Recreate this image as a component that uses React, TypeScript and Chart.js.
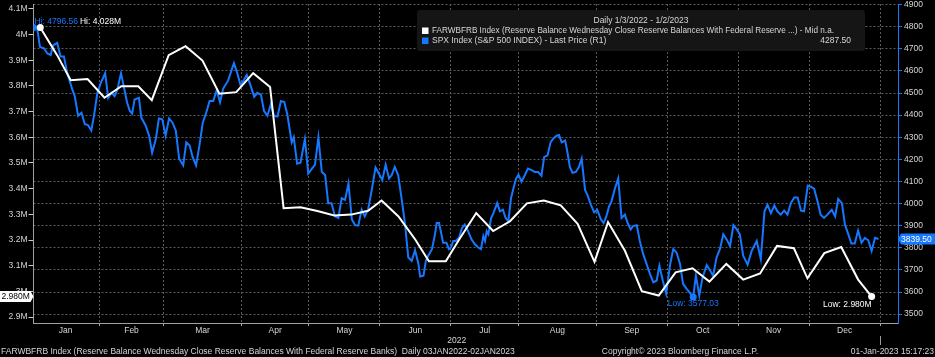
import React, { useEffect, useRef } from 'react';
import { Chart, registerables } from 'chart.js';

Chart.register(...registerables);

// ---------- DATA ----------
// Trading-day index (0 = 3 Jan 2022) and weekly reserve balances (in M)
const resDay = [2, 7, 11, 16, 21, 26, 31, 35, 40, 45, 50, 55, 60, 65, 70, 74, 79, 84, 89, 94, 99, 103, 108, 113, 117, 122, 126, 131, 136, 141, 146, 151, 156, 161, 166, 170, 175, 180, 185, 190, 195, 200, 205, 210, 215, 220, 225, 229, 234, 239, 244, 248];
const resBalance = [4.028, 3.92, 3.822, 3.827, 3.754, 3.799, 3.799, 3.745, 3.92, 3.955, 3.899, 3.77, 3.776, 3.85, 3.796, 3.324, 3.328, 3.313, 3.296, 3.299, 3.314, 3.354, 3.292, 3.201, 3.117, 3.117, 3.203, 3.305, 3.235, 3.273, 3.343, 3.354, 3.335, 3.263, 3.115, 3.27, 3.158, 3.001, 2.984, 3.074, 3.09, 3.038, 3.107, 3.046, 3.07, 3.177, 3.168, 3.051, 3.149, 3.173, 3.046, 2.98];

// S&P 500 (trading-day index, close)
const spxDay = [
  0, 1.1, 1.9, 3.1, 4.1, 5.1, 5.8, 7, 8, 9,
  10, 11.5, 12.2, 13.2, 14.2, 15.2, 16.1, 17.1, 17.9, 18.9,
  19.9, 21.2, 22.1, 23.1, 24, 24.8, 25.9, 26.7, 27.7, 28.5,
  29.2, 29.9, 31.2, 31.9, 33.2, 34.2, 35.1, 36.2, 37.1, 38.1,
  39.1, 40.1, 41.1, 42.1, 43.1, 44.3, 45.2, 46.2, 47.1, 48.1,
  49.1, 50.1, 51.1, 52.1, 53.2, 54.2, 55.2, 56.1, 57.6, 59.3,
  60.3, 61.3, 63.1, 64.3, 65.3, 66.2, 67.3, 68.2, 69.2, 70.2,
  71.2, 72.2, 73.2, 74.2, 75.1, 76.4, 77, 78, 79, 80.3,
  81.3, 83.3, 84.3, 85.3, 86.3, 87.2, 88.2, 89.2, 90.2, 91.2,
  92.2, 93.2, 94.2, 95.2, 96.1, 97.1, 98, 99, 100, 101.2,
  102.2, 103.2, 104.2, 105.2, 106, 106.9, 107.9, 108.9, 109.9, 110.9,
  111.9, 112.9, 113.9, 114.4, 115.4, 116.1, 116.8, 117.9, 118.8, 119.3,
  120, 120.7, 121.2, 122.2, 122.9, 123.5, 124.2, 124.9, 125.9, 126.8,
  127.6, 128.6, 129.6, 130.6, 131.6, 132.4, 133.1, 133.6, 134.1, 134.6,
  135.4, 136.1, 137.2, 138, 138.9, 139.7, 140.5, 141.3, 141.9, 142.8,
  143.5, 144.4, 145.4, 146.3, 147.4, 148.3, 149.3, 150.3, 151.1, 152.1,
  153, 153.8, 154.8, 155.5, 156.3, 157.3, 157.9, 158.7, 159.5, 160.5,
  161.4, 162.2, 163.2, 163.9, 164.9, 165.9, 166.8, 167.9, 168.7, 169.5,
  170.3, 171, 172, 173, 174, 175, 175.8, 176.7, 177.4, 178.5,
  179.4, 180.4, 181.4, 182.4, 183.4, 184.4, 185.2, 186.2, 187.2, 188.4,
  189.3, 190.3, 191.3, 192.2, 193.2, 194.4, 195.2, 196, 197, 198,
  199.2, 200.2, 201.1, 202.1, 203.1, 204.1, 205.1, 206.1, 207.1, 208.1,
  209, 210, 211.3, 212.5, 214, 215.2, 216.3, 217.2, 218.2, 219.2,
  220.1, 221.1, 222.1, 223.1, 224.1, 225.1, 226.1, 227.1, 228, 229.1,
  230, 231, 232, 232.9, 233.9, 234.9, 236.2, 237.2, 238.1, 239.2,
  240.1, 241.1, 242, 243, 244, 245, 246, 247, 248, 249,
  250,
];
const spxClose = [
  4796.56, 4793, 4709, 4702, 4679, 4672, 4716, 4727, 4665, 4665,
  4590, 4515, 4486, 4397, 4411, 4359, 4355, 4330, 4397, 4501,
  4545, 4590, 4478, 4501, 4486, 4515, 4590, 4531, 4456, 4419,
  4407, 4471, 4478, 4389, 4352, 4307, 4230, 4292, 4385, 4381,
  4307, 4385, 4367, 4330, 4203, 4173, 4277, 4263, 4210, 4173,
  4263, 4367, 4411, 4464, 4464, 4513, 4459, 4519, 4557, 4635,
  4590, 4533, 4582, 4531, 4483, 4501, 4493, 4419, 4397, 4448,
  4397, 4394, 4464, 4459, 4404, 4277, 4300, 4180, 4185, 4292,
  4136, 4176, 4300, 4143, 4129, 4002, 4002, 3942, 3935, 4024,
  4017, 4091, 3928, 3902, 3901, 3972, 3942, 3972, 4054, 4163,
  4136, 4106, 4176, 4113, 4129, 4166, 4129, 4024, 3912, 3756,
  3741, 3789, 3727, 3670, 3674, 3741, 3764, 3794, 3861, 3912,
  3912, 3861, 3823, 3823, 3794, 3801, 3831, 3831, 3845, 3890,
  3905, 3875, 3838, 3816, 3801, 3794, 3853, 3831, 3875, 3861,
  3935, 3957, 4002, 3965, 3972, 3935, 3920, 4024, 4062, 4113,
  4131, 4099, 4129, 4158, 4151, 4143, 4143, 4126, 4210, 4218,
  4277, 4295, 4307, 4310, 4277, 4285, 4240, 4166, 4139, 4143,
  4166, 4203, 4062, 4039, 3995, 3960, 3972, 3928, 3912, 3942,
  3987, 4009, 4066, 4113, 3935, 3950, 3912, 3883, 3898, 3902,
  3831, 3771, 3727, 3682, 3644, 3652, 3719, 3652, 3593, 3727,
  3794, 3778, 3727, 3637, 3615, 3593, 3577.03, 3674, 3585, 3667,
  3722, 3697, 3674, 3756, 3794, 3861, 3838, 3808, 3902, 3883,
  3861, 3764, 3723, 3786, 3831, 3749, 3965, 3995, 3957, 3991,
  3965, 3950, 3968, 3950, 4002, 4027, 4027, 3968, 3965, 4081,
  4076, 4066, 4009, 3950, 3935, 3950, 3972, 3942, 4021, 4002,
  3905, 3861, 3819, 3819, 3878, 3823, 3845, 3834, 3786, 3845,
  3839.5,
];

// First trading day of each month (Jan 2022 .. Jan 2023)
const monthStartDay = [0, 20, 39, 62, 82, 103, 124, 144, 167, 188, 209, 230, 251];
const monthLabels = ['Jan', 'Feb', 'Mar', 'Apr', 'May', 'Jun', 'Jul', 'Aug', 'Sep', 'Oct', 'Nov', 'Dec'];
const yearLabel = '2022';
const leftTicks = [2.9, 3.0, 3.1, 3.2, 3.3, 3.4, 3.5, 3.6, 3.7, 3.8, 3.9, 4.0, 4.1];
const rightTicks = [3500, 3600, 3700, 3800, 3900, 4000, 4100, 4200, 4300, 4400, 4500, 4600, 4700, 4800, 4900];

const legendTitle = 'Daily 1/3/2022 - 1/2/2023';
const legendRes = 'FARWBFRB Index (Reserve Balance Wednesday Close Reserve Balances With Federal Reserve ...) - Mid n.a.';
const legendSpx = 'SPX Index (S&P 500 INDEX) - Last Price (R1)';
const legendSpxValue = '4287.50';
const footerLeft = 'FARWBFRB Index (Reserve Balance Wednesday Close Reserve Balances With Federal Reserve Banks)  Daily 03JAN2022-02JAN2023';
const footerMid = 'Copyright\u00A9 2023 Bloomberg Finance L.P.';
const footerRight = '01-Jan-2023 15:17:23';

// ---------- STYLE ----------
const FONT = '"Liberation Sans", Arial, sans-serif';
const BLUE = '#1677ff';
const TEXT = '#d6d6d6';
const GRID = '#5a5a5a';

function argMax(a: number[]) { let k = 0; a.forEach((v, i) => { if (v > a[k]) k = i; }); return k; }
function argMin(a: number[]) { let k = 0; a.forEach((v, i) => { if (v < a[k]) k = i; }); return k; }

export default function App() {
  const ref = useRef<HTMLCanvasElement>(null);

  useEffect(() => {
    const canvas = ref.current!;
    const resHi = argMax(resBalance), resLo = argMin(resBalance);
    const spxHi = argMax(spxClose), spxLo = argMin(spxClose);
    const bounds = monthStartDay.slice(1).map((d) => d - 0.5);
    const mids = monthLabels.map((_, i) => (monthStartDay[i] + monthStartDay[i + 1]) / 2 - 0.5);
    const boundSet = new Set(bounds);
    const labelByMid = new Map<number, string>(mids.map((m, i) => [m, monthLabels[i]]));
    const f = (s: number) => `${s}px ${FONT}`;

    const background = {
      id: 'bg',
      beforeDraw(chart: any) {
        const c = chart.ctx;
        c.save();
        c.fillStyle = '#000';
        c.fillRect(0, 0, chart.width, chart.height);
        c.restore();
      },
    };

    const overlay = {
      id: 'overlay',
      afterDraw(chart: any) {
        const c = chart.ctx as CanvasRenderingContext2D;
        const ca = chart.chartArea;
        const xs = chart.scales.x;
        const y1 = chart.scales.y1;
        const y2 = chart.scales.y2;
        c.save();

        // year label and separator
        const yStart = Math.max(xs.getPixelForValue(monthStartDay[0] - 0.5), ca.left);
        const yEnd = xs.getPixelForValue(monthStartDay[monthStartDay.length - 1] - 0.5);
        c.fillStyle = TEXT;
        c.font = f(8.5);
        c.textAlign = 'center';
        c.textBaseline = 'middle';
        c.fillText(yearLabel, (yStart + yEnd) / 2, ca.bottom + 18);
        c.strokeStyle = '#9a9a9a';
        c.lineWidth = 1;
        c.beginPath();
        c.moveTo(Math.round(yEnd) + 0.5, ca.bottom + 13);
        c.lineTo(Math.round(yEnd) + 0.5, ca.bottom + 22);
        c.stroke();

        // legend box
        c.fillStyle = '#151515';
        c.beginPath();
        (c as any).roundRect(417, 10, 448, 41, 3);
        c.fill();
        c.fillStyle = TEXT;
        c.font = f(8.5);
        c.textAlign = 'center';
        c.fillText(legendTitle, 641, 21);
        c.textAlign = 'left';
        c.fillStyle = '#ffffff';
        c.fillRect(422, 27.5, 6.5, 6.5);
        c.fillStyle = BLUE;
        c.fillRect(422, 37.5, 6.5, 6.5);
        c.fillStyle = TEXT;
        c.font = f(8.2);
        c.fillText(legendRes, 432, 31);
        c.font = f(8.5);
        c.fillText(legendSpx, 432, 41);
        c.textAlign = 'right';
        c.fillText(legendSpxValue, 851, 41);

        // Hi / Low annotations
        const mRes = chart.getDatasetMeta(0).data;
        const mSpx = chart.getDatasetMeta(1).data;
        const pSH = mSpx[spxHi], pSL = mSpx[spxLo], pRH = mRes[resHi], pRL = mRes[resLo];
        c.font = f(8.5);
        c.textAlign = 'left';
        const hiBlue = `Hi: ${spxClose[spxHi].toFixed(2)}`;
        const hiX = Math.max(pSH.x, ca.left) + 1;
        c.fillStyle = BLUE;
        c.fillText(hiBlue, hiX, pSH.y - 6);
        const wX = hiX + c.measureText(hiBlue).width + 2;
        c.fillStyle = '#ffffff';
        c.fillText(`Hi: ${resBalance[resHi].toFixed(3)}M`, Math.max(wX, pRH.x), pSH.y - 6);
        c.textAlign = 'center';
        c.fillStyle = BLUE;
        c.fillText(`Low: ${spxClose[spxLo].toFixed(2)}`, pSL.x, pSL.y + 7);
        c.textAlign = 'right';
        c.fillStyle = '#ffffff';
        c.fillText(`Low: ${resBalance[resLo].toFixed(3)}M`, pRL.x, pRL.y + 8);

        // last value boxes
        const lastRes = resBalance[resBalance.length - 1];
        const ly = y1.getPixelForValue(lastRes);
        c.fillStyle = '#ffffff';
        c.beginPath();
        c.moveTo(0, ly - 5.5);
        c.lineTo(ca.left - 3, ly - 5.5);
        c.lineTo(ca.left, ly);
        c.lineTo(ca.left - 3, ly + 5.5);
        c.lineTo(0, ly + 5.5);
        c.closePath();
        c.fill();
        c.fillStyle = '#000';
        c.textAlign = 'left';
        c.fillText(`${lastRes.toFixed(3)}M`, 1.5, ly + 0.5);

        const lastSpx = spxClose[spxClose.length - 1];
        const ry = y2.getPixelForValue(lastSpx);
        c.fillStyle = BLUE;
        c.beginPath();
        c.moveTo(ca.right, ry);
        c.lineTo(ca.right + 3, ry - 5.5);
        c.lineTo(chart.width, ry - 5.5);
        c.lineTo(chart.width, ry + 5.5);
        c.lineTo(ca.right + 3, ry + 5.5);
        c.closePath();
        c.fill();
        c.fillStyle = '#ffffff';
        c.fillText(lastSpx.toFixed(2), ca.right + 3, ry + 0.5);

        // footer
        c.fillStyle = TEXT;
        c.font = f(8.5);
        c.textAlign = 'left';
        c.fillText(footerLeft, 1, 352);
        c.textAlign = 'center';
        c.fillText(footerMid, 680, 352);
        c.textAlign = 'right';
        c.fillText(footerRight, chart.width - 1, 352);
        c.restore();
      },
    };

    const chart = new Chart(canvas, {
      type: 'line',
      data: {
        datasets: [
          {
            label: 'FARWBFRB',
            data: resDay.map((d, i) => ({ x: d, y: resBalance[i] })),
            yAxisID: 'y1',
            borderColor: '#ffffff',
            borderWidth: 2,
            pointRadius: (ctx: any) => (ctx.dataIndex === resHi || ctx.dataIndex === resLo ? 3.5 : 0),
            pointBackgroundColor: '#ffffff',
            pointBorderWidth: 0,
            tension: 0,
          },
          {
            label: 'SPX',
            data: spxDay.map((d, i) => ({ x: d, y: spxClose[i] })),
            yAxisID: 'y2',
            borderColor: BLUE,
            borderWidth: 2,
            pointRadius: (ctx: any) => (ctx.dataIndex === spxHi || ctx.dataIndex === spxLo ? 3.5 : 0),
            pointBackgroundColor: BLUE,
            pointBorderWidth: 0,
            tension: 0,
          },
        ],
      } as any,
      options: {
        animation: false,
        responsive: false,
        events: [],
        layout: { padding: 0 },
        plugins: { legend: { display: false }, tooltip: { enabled: false } },
        scales: {
          x: {
            type: 'linear',
            min: 0,
            max: 255.8,
            afterBuildTicks: (s: any) => {
              s.ticks = [...bounds, ...mids].sort((a, b) => a - b).map((v) => ({ value: v }));
            },
            afterFit: (s: any) => {
              s.height = 34;
              s.paddingLeft = 0;
              s.paddingRight = 0;
            },
            ticks: {
              autoSkip: false,
              maxRotation: 0,
              minRotation: 0,
              color: TEXT,
              font: { family: FONT, size: 8.5 },
              padding: 0,
              callback: (v: any) => labelByMid.get(v) ?? '',
            },
            grid: {
              color: (c: any) => (c.tick && boundSet.has(c.tick.value) ? GRID : 'transparent'),
              tickColor: (c: any) => (c.tick && boundSet.has(c.tick.value) ? '#aaaaaa' : 'transparent'),
              tickLength: 3,
              tickBorderDash: [],
              lineWidth: 1,
            },
            border: { display: true, color: '#a0a0a0', dash: [2, 2] },
          },
          y1: {
            type: 'linear',
            position: 'left',
            min: 2.8769,
            max: 4.1192,
            afterBuildTicks: (s: any) => {
              s.ticks = leftTicks.map((v) => ({ value: v }));
            },
            afterFit: (s: any) => {
              s.width = 33.5;
              s.paddingTop = 0;
              s.paddingBottom = 0;
            },
            ticks: {
              color: TEXT,
              font: { family: FONT, size: 8.5 },
              padding: 1,
              callback: (v: any) => `${Math.round(v * 10) / 10}M`,
            },
            grid: { drawOnChartArea: false, tickLength: 5, tickColor: '#cccccc', tickBorderDash: [] },
            border: { display: true, color: '#a0a0a0' },
          },
          y2: {
            type: 'linear',
            position: 'right',
            min: 3459.8,
            max: 4902.7,
            afterBuildTicks: (s: any) => {
              s.ticks = rightTicks.map((v) => ({ value: v }));
            },
            afterFit: (s: any) => {
              s.width = 37;
              s.paddingTop = 0;
              s.paddingBottom = 0;
            },
            ticks: {
              color: TEXT,
              font: { family: FONT, size: 8.5 },
              padding: 2,
              callback: (v: any) => `${v}`,
            },
            grid: { drawOnChartArea: true, color: GRID, lineWidth: 1, tickLength: 4, tickColor: BLUE, tickBorderDash: [] },
            border: { display: true, color: BLUE, dash: [2, 2] },
          },
        },
      } as any,
      plugins: [background, overlay],
    });

    return () => chart.destroy();
  }, []);

  return (
    <div style={{ position: 'absolute', left: 0, top: 0, width: 935, height: 357, background: '#000' }}>
      <canvas ref={ref} width={935} height={357} style={{ display: 'block' }} />
    </div>
  );
}
